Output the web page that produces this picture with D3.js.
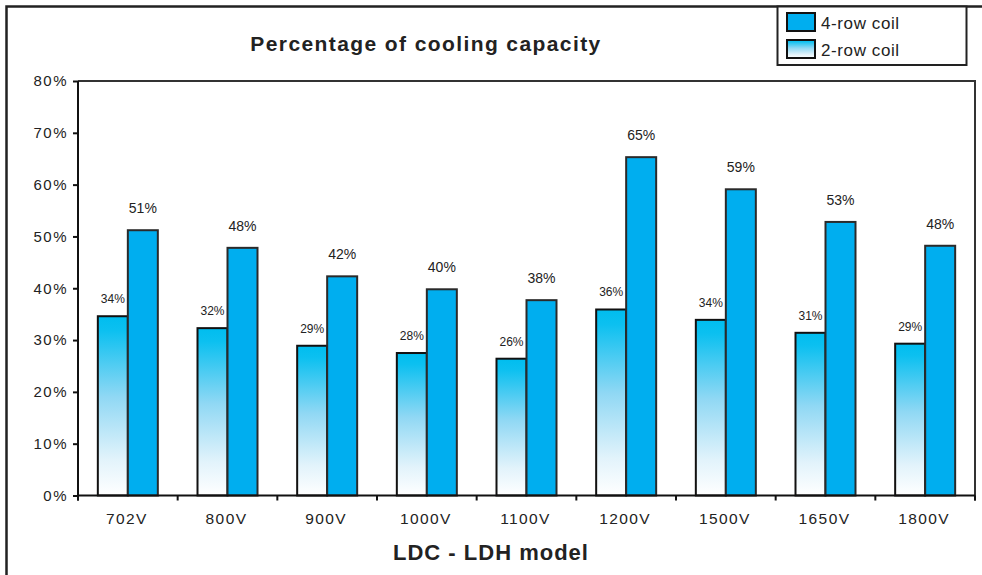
<!DOCTYPE html>
<html>
<head>
<meta charset="utf-8">
<script src="https://cdn.jsdelivr.net/npm/d3@7"></script>
<style>
  body { margin: 0; background: #fff; }
  text { font-family: "Liberation Sans", Arial, sans-serif; fill: #222; }
</style>
</head>
<body>
<svg id="chart"></svg>
<script>
// data
const models = ['702V', '800V', '900V', '1000V', '1100V', '1200V', '1500V', '1650V', '1800V'];
const fourRow = [51.2, 47.8, 42.3, 39.8, 37.7, 65.3, 59.1, 52.8, 48.2];
const twoRow = [34.6, 32.3, 28.9, 27.5, 26.4, 35.9, 33.9, 31.4, 29.3];
const fourRowLabels = ['51%', '48%', '42%', '40%', '38%', '65%', '59%', '53%', '48%'];
const twoRowLabels = ['34%', '32%', '29%', '28%', '26%', '36%', '34%', '31%', '29%'];
const yTicks = [0, 10, 20, 30, 40, 50, 60, 70, 80];
const seriesNames = ['4-row coil', '2-row coil'];

const W = 982, H = 575;
const plot = {left: 78, right: 975, top: 81, bottom: 495.5};
const blue = '#00aeef';

const svg = d3.select('#chart').attr('width', W).attr('height', H);

const defs = svg.append('defs');
const grad = defs.append('linearGradient')
    .attr('id', 'fade')
    .attr('x1', 0).attr('y1', 0).attr('x2', 0).attr('y2', 1);
grad.append('stop').attr('offset', '0%').attr('stop-color', '#00bdef');
grad.append('stop').attr('offset', '8%').attr('stop-color', '#0cc0f0');
grad.append('stop').attr('offset', '45%').attr('stop-color', '#90d8f4');
grad.append('stop').attr('offset', '80%').attr('stop-color', '#e2f3fb');
grad.append('stop').attr('offset', '100%').attr('stop-color', '#ffffff');

const x = d3.scaleBand().domain(models).range([plot.left, plot.right]).padding(0);
const y = d3.scaleLinear().domain([0, 80]).range([plot.bottom, plot.top]);
const barW = 30;

// outer frame (left + top only visible)
svg.append('path')
    .attr('d', `M6.5,${H} V6.5 H${W}`)
    .attr('fill', 'none').attr('stroke', '#222').attr('stroke-width', 2.5);

// plot box
svg.append('path')
    .attr('d', `M${plot.left},${plot.top} H${plot.right} V${plot.bottom + 5}`)
    .attr('fill', 'none').attr('stroke', '#333').attr('stroke-width', 2);

// title
svg.append('text')
    .attr('x', 426).attr('y', 51)
    .attr('text-anchor', 'middle')
    .style('font-size', '21px').style('font-weight', 'bold')
    .style('letter-spacing', '1.4px')
    .text('Percentage of cooling capacity');

// bars: 2-row (gradient) left, 4-row right
const groups = svg.append('g').selectAll('g')
    .data(models)
    .join('g');

groups.append('rect')
    .attr('x', d => x(d) + x.bandwidth() / 2 - barW)
    .attr('y', (d, i) => y(twoRow[i]))
    .attr('width', barW)
    .attr('height', (d, i) => y(0) - y(twoRow[i]))
    .attr('fill', 'url(#fade)')
    .attr('stroke', '#111').attr('stroke-width', 2);

groups.append('rect')
    .attr('x', d => x(d) + x.bandwidth() / 2)
    .attr('y', (d, i) => y(fourRow[i]))
    .attr('width', barW)
    .attr('height', (d, i) => y(0) - y(fourRow[i]))
    .attr('fill', blue)
    .attr('stroke', '#2a2a2a').attr('stroke-width', 2);

groups.append('text')
    .attr('x', d => x(d) + x.bandwidth() / 2 - barW / 2)
    .attr('y', (d, i) => y(twoRow[i]) - 13)
    .attr('text-anchor', 'middle')
    .style('font-size', '12px')
    .text((d, i) => twoRowLabels[i]);

groups.append('text')
    .attr('x', d => x(d) + x.bandwidth() / 2 + barW / 2)
    .attr('y', (d, i) => y(fourRow[i]) - 17)
    .attr('text-anchor', 'middle')
    .style('font-size', '14px')
    .text((d, i) => fourRowLabels[i]);

// y axis
const yAxis = d3.axisLeft(y)
    .tickValues(yTicks)
    .tickFormat(d => d + '%')
    .tickSize(5)
    .tickPadding(5);

const yg = svg.append('g')
    .attr('transform', `translate(${plot.left}, 0)`)
    .call(yAxis);
yg.select('.domain').attr('stroke', '#111').attr('stroke-width', 2)
    .attr('d', `M0,${plot.top}V${plot.bottom + 5}`);
yg.selectAll('.tick line').attr('stroke', '#111').attr('stroke-width', 2);
yg.selectAll('.tick text')
    .style('font-size', '15px').style('letter-spacing', '1.5px')
    .style('font-family', '"Liberation Sans", Arial, sans-serif')
    .attr('fill', '#222');

// x axis: ticks at band boundaries, labels at band centres
const xg = svg.append('g');
xg.append('line')
    .attr('x1', plot.left).attr('x2', plot.right)
    .attr('y1', plot.bottom).attr('y2', plot.bottom)
    .attr('stroke', '#111').attr('stroke-width', 2);
const bounds = models.map(d => x(d)).concat([x.range()[1]]);
xg.selectAll('.xtick')
    .data(bounds)
    .join('line')
    .attr('class', 'xtick')
    .attr('x1', d => d).attr('x2', d => d)
    .attr('y1', plot.bottom).attr('y2', plot.bottom + 5)
    .attr('stroke', '#111').attr('stroke-width', 2);
xg.selectAll('.xlabel')
    .data(models)
    .join('text')
    .attr('class', 'xlabel')
    .attr('x', d => x(d) + x.bandwidth() / 2 - 1)
    .attr('y', 524)
    .attr('text-anchor', 'middle')
    .style('font-size', '15.5px').style('letter-spacing', '1.4px')
    .text(d => d);

svg.append('text')
    .attr('x', 491).attr('y', 560)
    .attr('text-anchor', 'middle')
    .style('font-size', '22px').style('font-weight', 'bold')
    .style('letter-spacing', '1px')
    .text('LDC - LDH model');

// legend
const legend = svg.append('g');
legend.append('rect')
    .attr('x', 777.5).attr('y', 6.5)
    .attr('width', 189).attr('height', 58.5)
    .attr('fill', '#fff').attr('stroke', '#222').attr('stroke-width', 2);
const fills = [blue, 'url(#fade)'];
const items = legend.selectAll('g')
    .data(seriesNames)
    .join('g')
    .attr('transform', (d, i) => `translate(787, ${13 + i * 27})`);
items.append('rect')
    .attr('width', 28).attr('height', 18)
    .attr('fill', (d, i) => fills[i])
    .attr('stroke', '#111').attr('stroke-width', 2);
items.append('text')
    .attr('x', 34).attr('y', 16)
    .style('font-size', '17px').style('letter-spacing', '0.6px')
    .text(d => d);
</script>
</body>
</html>
